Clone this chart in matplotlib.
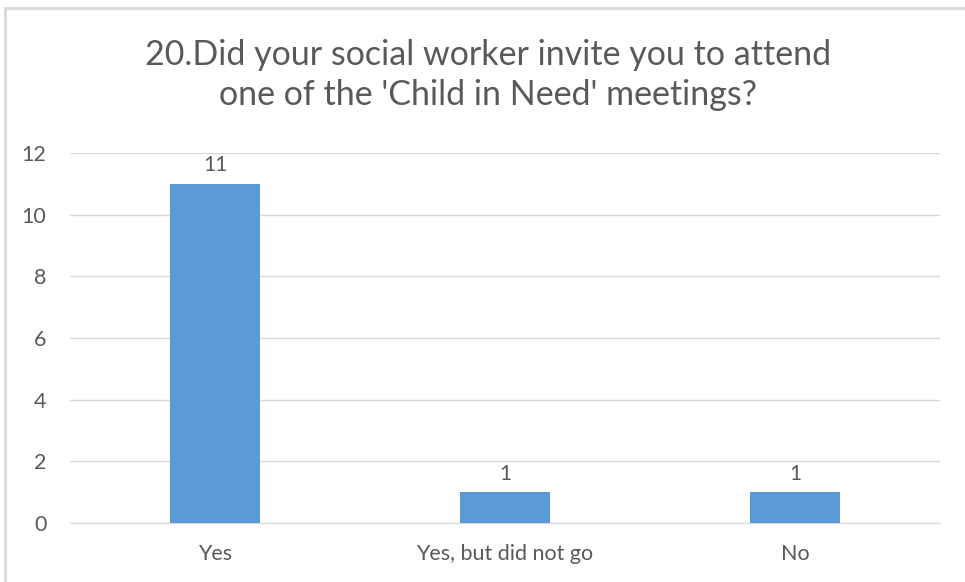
import matplotlib.pyplot as plt
from matplotlib.patches import Rectangle

categories = ["Yes", "Yes, but did not go", "No"]
counts = [11, 1, 1]
yticks = [0, 2, 4, 6, 8, 10, 12]

plt.rcParams['font.family'] = ['Lato', 'DejaVu Sans']
text_color = "#595959"

fig = plt.figure(figsize=(9.65, 5.82), dpi=100)
ax = fig.add_axes([70/965, 1 - 523/582, 870/965, 370/582])

x = range(len(categories))
bars = ax.bar(x, counts, width=0.31, color="#5B9BD5", zorder=3)
for b, v in zip(bars, counts):
    ax.text(b.get_x() + b.get_width()/2, v + 0.28, str(v), ha="center", va="bottom",
            fontsize=15, color=text_color)

ax.set_xlim(-0.5, len(categories) - 0.5)
ax.set_ylim(0, 12)
ax.set_yticks(yticks)
ax.set_xticks(list(x))
ax.set_xticklabels(categories)
ax.tick_params(length=0, labelsize=15.5, colors=text_color)
ax.tick_params(axis="y", pad=17)
ax.tick_params(axis="x", pad=15)
ax.grid(axis="y", color="#D9D9D9", linewidth=1, zorder=0)
for s in ["top", "right", "left"]:
    ax.spines[s].set_visible(False)
ax.spines["bottom"].set_color("#D9D9D9")

fig.text(488/965, 1 - 75/582, "20.Did your social worker invite you to attend\none of the 'Child in Need' meetings?",
         ha="center", va="center", fontsize=24.5, color=text_color, linespacing=1.32)

# light chart-area frame
fig.patches.append(Rectangle((5/965, -0.1), 1.1, 1 - 8/582 + 0.1, transform=fig.transFigure,
                             fill=False, edgecolor="#D9D9D9", linewidth=2))

fig.savefig("out.png", dpi=100)
